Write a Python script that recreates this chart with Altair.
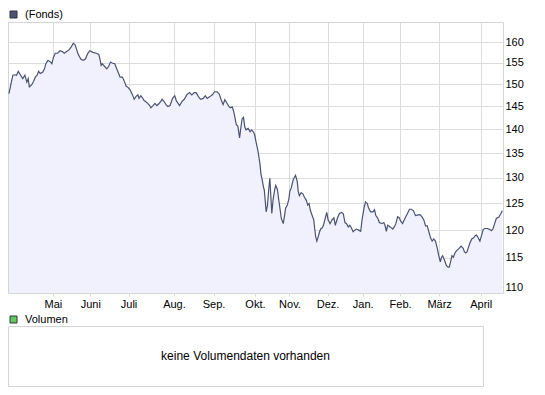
import altair as alt
import pandas as pd

# trading-day index (x) and fund price (y)
days = [
    0.5, 1.4, 2.5, 3.6, 4.4, 5.3, 6.5, 7.6, 8.7, 9.7,
    10.4, 11.0, 12.1, 13.2, 14.1, 15.0, 15.8, 16.6, 17.8, 18.8,
    19.5, 20.6, 21.7, 22.6, 23.4, 24.3, 25.6, 26.8, 28.0, 29.0,
    30.2, 31.4, 32.4, 33.6, 34.5, 35.3, 36.1, 37.5, 38.7, 39.9,
    40.9, 42.1, 43.8, 45.5, 46.8, 47.5, 48.0, 48.5, 49.7, 50.9,
    51.9, 52.8, 53.9, 55.0, 56.0, 57.0, 57.7, 59.0, 60.1, 60.8,
    61.8, 62.8, 63.8, 64.5, 65.0, 65.9, 66.9, 67.5, 68.4, 69.2,
    70.1, 70.9, 72.0, 73.0, 73.6, 74.7, 75.7, 76.7, 77.7, 78.6,
    79.4, 80.4, 81.4, 82.4, 83.5, 84.2, 84.8, 85.9, 86.7, 88.4,
    89.6, 90.8, 92.1, 93.5, 94.7, 95.9, 96.9, 98.1, 99.2, 100.6,
    101.6, 102.6, 104.0, 105.3, 106.4, 107.7, 108.8, 109.8, 110.8, 111.7,
    112.8, 113.8, 114.5, 115.5, 116.2, 116.9, 117.6, 118.4, 119.3, 119.9,
    120.6, 121.3, 122.0, 122.6, 123.7, 124.7, 125.4, 126.4, 127.1, 127.7,
    128.8, 129.8, 130.3, 131.1, 131.7, 132.0, 132.7, 133.0, 133.7, 134.3,
    134.9, 135.4, 135.9, 136.6, 137.4, 137.9, 138.8, 139.4, 140.2, 140.8,
    141.8, 142.5, 143.0, 143.9, 144.7, 145.2, 145.9, 146.9, 148.1, 149.0,
    149.5, 150.1, 151.0, 152.0, 152.7, 153.7, 154.4, 155.1, 155.7, 156.6,
    157.5, 158.0, 158.5, 159.1, 159.8, 160.5, 161.2, 161.8, 162.5, 163.4,
    164.2, 164.9, 165.9, 166.9, 167.9, 168.6, 169.7, 170.7, 171.9, 172.7,
    173.6, 174.4, 175.3, 176.1, 176.9, 177.8, 178.6, 179.5, 180.7, 181.7,
    182.5, 183.4, 184.2, 185.1, 185.7, 186.8, 188.0, 188.8, 189.5, 190.5,
    191.3, 192.6, 193.6, 194.2, 194.9, 195.6, 196.9, 198.2, 199.0, 199.8,
    200.7, 201.5, 202.4, 203.3, 204.1, 204.9, 205.8, 206.8, 207.8, 208.9,
    209.9, 210.9, 212.2, 213.2, 214.2, 215.1, 216.0, 216.8, 217.7, 218.5,
    219.3, 220.2, 221.1, 221.9, 222.7, 223.3, 223.9, 224.9, 225.8, 226.7,
    227.3, 228.0, 228.7, 229.4, 230.4, 231.4, 232.4, 233.4, 234.5, 235.1,
    235.8, 236.5, 237.1, 238.0, 238.9, 239.9, 240.6, 241.4, 242.2, 243.1,
    244.0, 244.8, 245.6, 247.0, 248.2, 249.1, 249.9, 250.7, 251.6, 252.8,
    253.8, 254.6,
]
values = [
    147.9, 149.8, 152.1, 152.2, 152.1, 153.0, 152.1, 151.3, 152.1, 150.5,
    151.3, 149.4, 149.8, 150.7, 151.7, 152.1, 153.0, 152.5, 152.8, 153.6,
    154.8, 155.6, 155.3, 154.8, 156.3, 157.3, 157.3, 157.9, 157.7, 157.3,
    157.7, 158.1, 158.7, 159.7, 159.4, 158.3, 157.1, 155.9, 155.6, 155.9,
    157.1, 157.9, 157.5, 157.3, 157.0, 155.6, 154.4, 154.8, 154.2, 153.6,
    154.2, 155.2, 154.9, 154.8, 153.6, 152.5, 151.7, 151.6, 150.5, 149.6,
    149.3, 148.8, 147.9, 147.2, 146.6, 147.2, 147.6, 146.8, 147.4, 147.0,
    146.3, 146.1, 145.7, 145.2, 144.7, 145.2, 145.7, 145.2, 145.6, 146.1,
    146.6, 146.1, 145.4, 145.0, 145.2, 146.1, 146.8, 147.4, 146.3, 145.2,
    146.1, 146.6, 147.6, 148.1, 147.6, 148.1, 148.1, 147.2, 146.6, 146.8,
    147.4, 146.8, 147.2, 147.6, 148.3, 148.3, 147.8, 146.5, 145.4, 146.5,
    145.7, 145.0, 144.7, 144.9, 144.0, 142.6, 141.0, 140.7, 138.2, 140.2,
    142.3, 142.6, 140.5, 139.9, 140.2, 139.5, 139.9, 139.5, 138.8, 137.5,
    135.4, 132.8, 130.8, 129.3, 128.0, 127.7, 124.7, 123.4, 124.7, 127.7,
    129.9, 126.5, 123.1, 125.9, 127.7, 128.5, 127.7, 125.9, 123.8, 122.2,
    121.2, 122.8, 124.1, 124.7, 125.9, 127.4, 128.0, 129.6, 130.5, 129.3,
    127.4, 126.5, 127.1, 126.8, 126.2, 125.6, 124.7, 125.0, 123.8, 122.8,
    121.9, 120.3, 118.8, 118.0, 118.8, 119.7, 120.3, 120.4, 120.9, 122.2,
    123.3, 121.9, 121.2, 121.9, 122.3, 120.9, 122.2, 123.1, 123.3, 123.1,
    121.4, 121.2, 120.6, 120.9, 120.4, 119.7, 120.0, 120.2, 120.0, 119.8,
    122.2, 124.1, 125.3, 125.0, 124.2, 123.4, 123.4, 123.8, 122.7, 122.2,
    121.4, 121.2, 121.4, 120.9, 119.8, 120.9, 120.6, 120.2, 120.6, 121.2,
    122.5, 122.3, 121.6, 121.2, 121.9, 122.5, 123.1, 123.9, 123.9, 123.6,
    122.7, 122.8, 122.9, 122.5, 121.9, 120.8, 120.8, 119.7, 118.6, 118.0,
    118.4, 118.0, 116.8, 115.4, 114.3, 115.1, 115.4, 114.6, 113.7, 113.4,
    113.4, 114.3, 115.4, 115.1, 116.0, 116.4, 116.7, 117.1, 116.7, 116.1,
    115.9, 116.1, 116.8, 117.7, 118.4, 118.6, 119.0, 119.1, 118.6, 118.0,
    119.1, 120.1, 120.3, 120.3, 120.1, 119.9, 120.3, 121.2, 122.2, 122.4,
    123.0, 123.6,
]

# month starts on the trading-day index and their labels
month_pos = [23.1, 42.4, 62.1, 85.5, 105.9, 127.2, 145.0, 164.6, 182.7, 202.0, 222.1, 243.5]
month_labels = ["Mai", "Juni", "Juli", "Aug.", "Sep.", "Okt.", "Nov.", "Dez.",
                "Jan.", "Feb.", "März", "April"]
y_ticks = [110, 115, 120, 125, 130, 135, 140, 145, 150, 155, 160]
x_domain = [0, 255]
y_domain = [109, 165]

series_name = ["(Fonds)"]
volume_name = ["Volumen"]
volume_message = ["keine Volumendaten vorhanden"]

FONT = "Liberation Sans"
GRID = "#dcdcdc"
BORDER = "#d4d4d4"
LINE = "#4a5272"
AREA = "#f1f1fd"
FONDS_SQ = "#4a5374"
VOL_SQ = "#5fcb5f"

df = pd.DataFrame({"tag": days, "kurs": values})
fonds_legend_df = pd.DataFrame({"serie": pd.Series([], dtype=str)})
vol_legend_df = pd.DataFrame({"vol": pd.Series([], dtype=str)})
msg_df = pd.DataFrame({"msg": volume_message})

label_expr = "[{}][indexof([{}], datum.value)]".format(
    ",".join("'{}'".format(m) for m in month_labels),
    ",".join(str(p) for p in month_pos),
)

W = 495
H = 271

x_enc = alt.X(
    "tag:Q",
    scale=alt.Scale(domain=x_domain, nice=False, zero=False),
    axis=alt.Axis(
        values=month_pos, labelExpr=label_expr, grid=True, gridColor=GRID,
        tickColor=GRID, tickSize=3, domain=False, title=None,
        labelFont=FONT, labelFontSize=11, labelColor="#000", labelPadding=2,
        labelFlush=False,
    ),
)
y_enc = alt.Y(
    "kurs:Q",
    scale=alt.Scale(type="log", domain=y_domain, nice=False, zero=False),
    axis=alt.Axis(
        orient="right", values=y_ticks, format="d", grid=True, gridColor=GRID,
        ticks=False, domain=False, title=None, labelFont=FONT, labelFontSize=11,
        labelColor="#000", labelPadding=2,
    ),
)

legend_common = dict(
    title=None, orient="none", legendX=0, symbolType="square",
    symbolSize=49, symbolStrokeColor="#333333", symbolStrokeWidth=1,
    symbolOpacity=1, labelFont=FONT, labelFontSize=11, labelColor="#000",
    labelOffset=6, padding=0,
)

area = alt.Chart(df).mark_area(color=AREA).encode(
    x=x_enc, y=y_enc, y2=alt.datum(y_domain[0])
)
line = alt.Chart(df).mark_line(color=LINE, strokeWidth=1.2).encode(x=x_enc, y=y_enc)
fonds_legend = alt.Chart(fonds_legend_df).mark_square(
    filled=True, opacity=1, stroke="#333333", strokeWidth=1
).encode(
    color=alt.Color(
        "serie:N",
        scale=alt.Scale(domain=series_name, range=[FONDS_SQ]),
        legend=alt.Legend(legendY=-13, **legend_common),
    )
)
top = alt.layer(area, line, fonds_legend).properties(width=W, height=H)

msg = alt.Chart(msg_df).mark_text(font=FONT, fontSize=12, color="#000").encode(
    text="msg:N",
    x=alt.XDatum(0.5, scale=alt.Scale(domain=[0, 1]), axis=None),
    y=alt.YDatum(0.5, scale=alt.Scale(domain=[0, 1]), axis=None),
)
vol_legend = alt.Chart(vol_legend_df).mark_square(
    filled=True, opacity=1, stroke="#333333", strokeWidth=1
).encode(
    color=alt.Color(
        "vol:N",
        scale=alt.Scale(domain=volume_name, range=[VOL_SQ]),
        legend=alt.Legend(legendY=-12, **legend_common),
    )
)
bottom = alt.layer(msg, vol_legend).properties(width=475, height=60)

chart = (
    alt.vconcat(top, bottom, spacing=3)
    .resolve_scale(color="independent")
    .properties(padding={"left": -2, "top": 0, "right": 0, "bottom": 0}, background="white")
    .configure_view(stroke=BORDER, strokeWidth=1, fill="white")
)

chart.save("out.html", embed_options={"renderer": "svg", "actions": False})
